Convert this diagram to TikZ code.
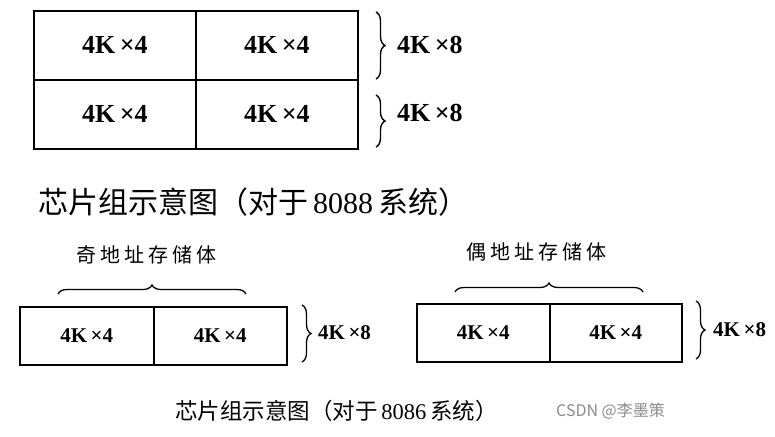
\documentclass[tikz,border=0pt]{standalone}
\usepackage{fontspec}
\usetikzlibrary{decorations.pathreplacing}
\newfontfamily\cjk{Noto Sans CJK SC}
\newfontfamily\numfont{Liberation Serif Bold}
\newfontfamily\capnum{Liberation Serif}
\newcommand{\fs}[1]{\fontsize{#1}{#1}\selectfont}
\newcommand{\kk}[1]{4K\,×#1}
\tikzset{
  cellbig/.style={draw, line width=1.8pt, inner sep=0pt, anchor=north west,
    minimum width=162pt, minimum height=69pt, font=\numfont\fs{26}},
  cellsmall/.style={draw, line width=1.6pt, inner sep=0pt, anchor=north west,
    minimum height=58pt, font=\numfont\fs{21}},
  bracebig/.style={decorate, decoration={brace, amplitude=9pt}, line width=1.4pt},
  bracesmall/.style={decorate, decoration={brace, amplitude=9pt}, line width=1.3pt},
  sizebig/.style={font=\numfont\fs{26}, anchor=west, inner sep=0pt},
  sizesmall/.style={font=\numfont\fs{21}, anchor=west, inner sep=0pt},
  caption/.style={inner sep=0pt, anchor=west},
  bracelabel/.style={inner sep=0pt, font=\cjk\fs{20}},
}
\begin{document}
\begin{tikzpicture}[x=1pt,y=-1pt]
\useasboundingbox (0,0) rectangle (775,436);
\fill[white] (0,0) rectangle (775,436);
% top: 8088
\node[cellbig] (a1) at (33,10) {\kk4};
\node[cellbig] (a2) at (195,10) {\kk4};
\node[cellbig] (b1) at (33,79) {\kk4};
\node[cellbig] (b2) at (195,79) {\kk4};
\coordinate (ra1) at (376,12);
\coordinate (ra2) at (376,79);
\coordinate (rb1) at (376,95);
\coordinate (rb2) at (376,147);
\draw[bracebig] (ra1) -- (ra2);
\draw[bracebig] (rb1) -- (rb2);
\node[sizebig] (la) at (397,45) {\kk8};
\node[sizebig] (lb) at (397,113) {\kk8};
\node[caption] (cap1) at (38,202) {\cjk\fs{30}芯片组示意图（对于\,{\capnum 8088}\,系统）};
% bottom left: odd
\node[cellsmall, minimum width=134pt] (c1) at (19,306) {\kk4};
\node[cellsmall, minimum width=133pt] (c2) at (153,306) {\kk4};
\coordinate (bo1) at (58,294);
\coordinate (bo2) at (246,294);
\draw[bracesmall] (bo1) -- (bo2);
\node[bracelabel] (odd) at (146,255) {奇\hspace{4pt}地\hspace{4pt}址\hspace{4pt}存\hspace{4pt}储\hspace{4pt}体};
\coordinate (rc1) at (302,305);
\coordinate (rc2) at (302,362);
\draw[bracesmall] (rc1) -- (rc2);
\node[sizesmall] (lc) at (318,333) {\kk8};
% bottom right: even
\node[cellsmall, minimum width=133pt] (d1) at (416,303) {\kk4};
\node[cellsmall, minimum width=132pt] (d2) at (549,303) {\kk4};
\coordinate (be1) at (455,292);
\coordinate (be2) at (643,292);
\draw[bracesmall] (be1) -- (be2);
\node[bracelabel] (even) at (536,252) {偶\hspace{4pt}地\hspace{4pt}址\hspace{4pt}存\hspace{4pt}储\hspace{4pt}体};
\coordinate (rd1) at (696,301);
\coordinate (rd2) at (696,359);
\draw[bracesmall] (rd1) -- (rd2);
\node[sizesmall] (ld) at (713,330) {\kk8};
\node[caption] (cap2) at (175,411) {\cjk\fs{22.5}芯片组示意图（对于\,{\capnum 8086}\,系统）};
\node[caption, text=black!45] (wm) at (556,411) {\cjk\fs{16}CSDN @李墨策};
\end{tikzpicture}
\end{document}
